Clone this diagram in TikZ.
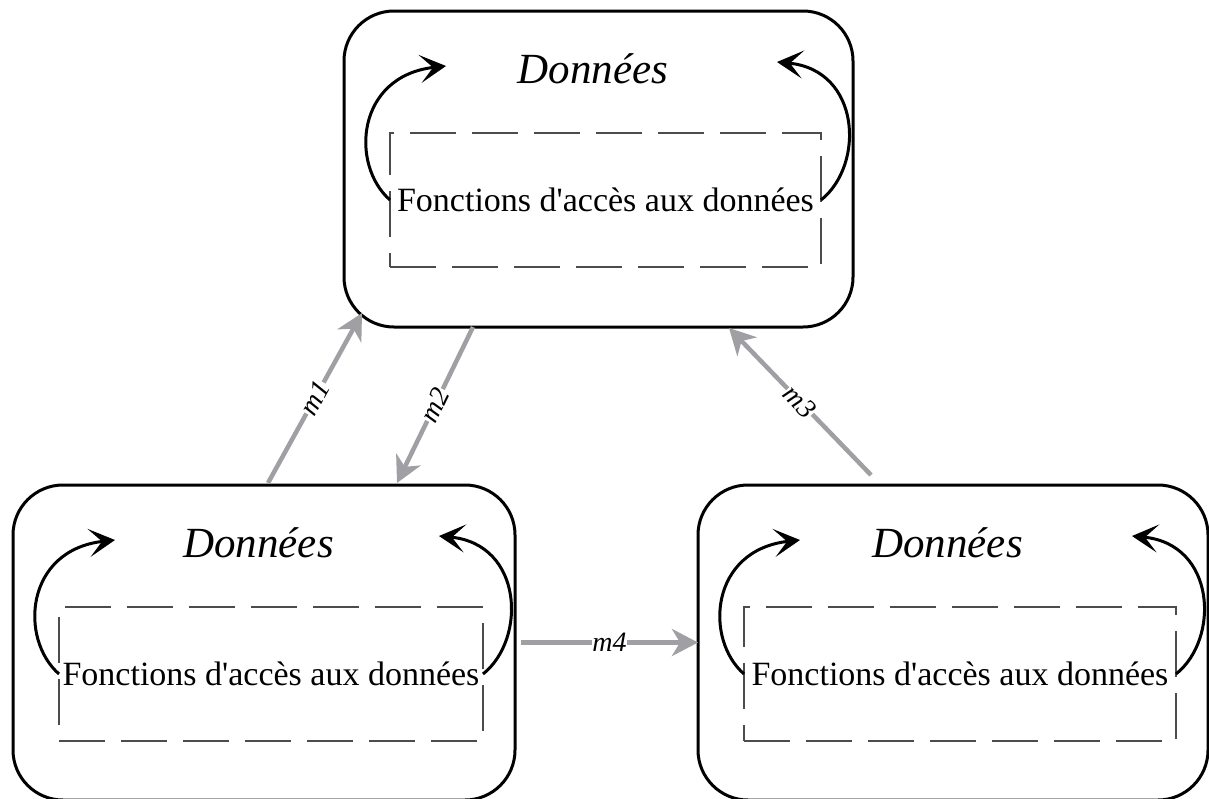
\documentclass[tikz,border=0pt]{standalone}
\usepackage{fontspec}
\setmainfont{Liberation Serif}
\usetikzlibrary{arrows.meta,calc}

\tikzset{
  module/.style={draw, line width=3pt, rounded corners=50pt, outer sep=0pt, inner sep=0pt},
  title/.style={font=\fontsize{43}{48}\selectfont\itshape, inner sep=0pt},
  access/.style={draw=black!70, line width=1.3pt, dash pattern=on 46pt off 16pt,
    outer sep=0pt, inner sep=0pt, minimum height=134pt,
    font=\fontsize{34}{40}\selectfont},
  loop/.style={line width=3pt, -{Stealth[length=26pt, width=28pt, inset=13pt]}},
  msg/.style={draw=msggray, line width=4.5pt, -{Stealth[length=26pt, width=27pt, inset=8pt]}},
  msglabel/.style={fill=white, inner sep=0.5pt, sloped, text=black,
    font=\fontsize{28}{32}\selectfont\itshape},
}
\definecolor{msggray}{RGB}{160,160,164}

% one module: rounded frame, title, dashed access layer and two loops
\newcommand\datamodule[5]{%
  \node[module, minimum width=#4, minimum height=#5] (#1) at (#2,#3) {};
  \node[title] (#1-t) at ($(#1.north)+(-5.5,58)$) {Données};
  \node[access, minimum width=#4-78pt] (#1-f) at ($(#1.north)+(7,189)$)
    {Fonctions d\textquotesingle accès aux données};
  \coordinate (#1-l) at ($(#1.north west)+(102,55)$);
  \coordinate (#1-r) at ($(#1.north east)+(-76,51)$);
  \draw[loop] (#1-f.west) .. controls +(-40,-35) and +(-90,10) .. (#1-l);
  \draw[loop] (#1-f.east) .. controls +(44,-35) and +(84,8) .. (#1-r);
}

\begin{document}
\begin{tikzpicture}[x=1pt, y=-1pt]
  \clip (0,0) rectangle (1209,798);
  \fill[white] (0,0) rectangle (1209,798);

  \datamodule{A}{598.5}{169}{509pt}{316pt}
  \datamodule{B}{264}{642.5}{502pt}{315pt}
  \datamodule{C}{953}{642.5}{510pt}{315pt}

  % messages between modules
  \draw[msg] ($(B.north west)+(255,-2)$) -- node[msglabel] {m1} ($(A.south west)+(18,-14)$);
  \draw[msg] ($(A.south west)+(129,0)$) -- node[msglabel] {m2} ($(B.north west)+(384,-2)$);
  \draw[msg] ($(C.north west)+(173,-10)$) -- node[msglabel] {m3} ($(A.south west)+(385,1)$);
  \draw[msg] ($(B.east)+(6,0)$) -- node[msglabel] {m4} (C.west);
\end{tikzpicture}
\end{document}
